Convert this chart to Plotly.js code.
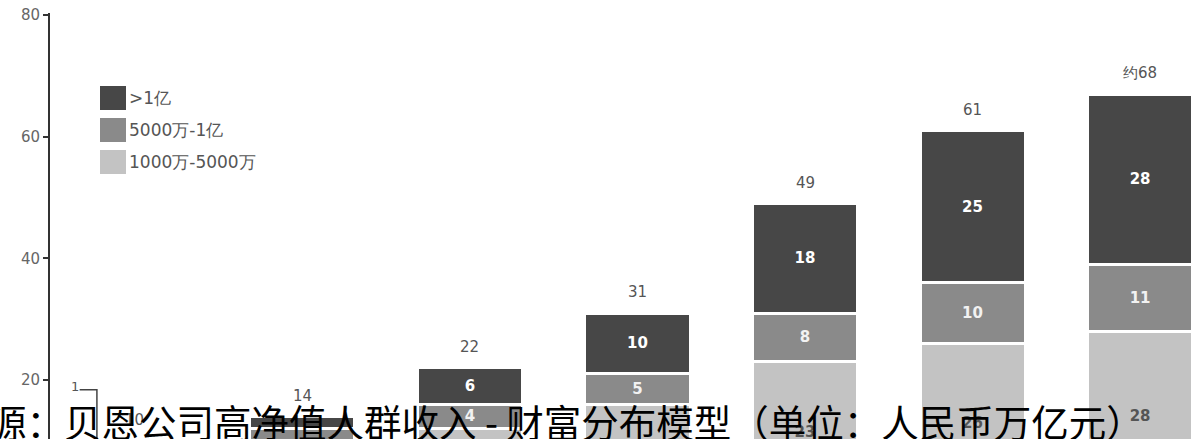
<!DOCTYPE html>
<html>
<head>
<meta charset="utf-8">
<script src="https://cdn.plot.ly/plotly-3.0.1.min.js"></script>
<style>
  html, body { margin: 0; padding: 0; background: #fff; }
  #chart { width: 1192px; height: 439px; }
</style>
</head>
<body>
<div id="chart"></div>
<script>
// ---- data (万亿元) ----
var categories = ['P1', 'P2', 'P3', 'P4', 'P5', 'P6', 'P7'];
var seriesNames = ['1000万-5000万', '5000万-1亿', '>1亿'];
var lowTier  = [7, 10, 12, 16, 23, 26, 28];   // 1000万-5000万
var midTier  = [2, 2, 4, 5, 8, 10, 11];       // 5000万-1亿
var highTier = [1, 2, 6, 10, 18, 25, 28];     // >1亿
var totalLabels = ['10', '14', '22', '31', '49', '61', '约68'];
var sourceText = '源：贝恩公司高净值人群收入 - 财富分布模型（单位：人民币万亿元）';

// ---- styling ----
var colors = ['#c3c3c3', '#8a8a8a', '#474747'];
var textColors = ['#555555', '#f2f2f2', '#ffffff'];
var LATIN = 'DejaVu Sans, Liberation Sans, sans-serif';
var W = 1192, H = 439, ML = 50, MR = 0, MT = 13, MB = 0;
var YMIN = 10.3, YMAX = 80.33;
var PW = W - ML - MR, PH = H - MT - MB;
function px2x(p) { return (p - ML) / PW; }
function py2y(p) { return 1 - (p - MT) / PH; }

var series = [lowTier, midTier, highTier];
var traces = series.map(function (vals, i) {
  return {
    type: 'bar',
    x: categories,
    y: vals,
    name: seriesNames[i],
    width: 0.627,
    marker: { color: colors[i], line: { color: '#ffffff', width: 3 } },
    text: vals.map(function (v, k) {
      var base = 0;
      for (var s = 0; s < i; s++) base += series[s][k];
      var mid = base + v / 2;
      return (v >= 3 && mid > YMIN + 1) ? String(v) : '';
    }),
    textposition: 'inside',
    insidetextanchor: 'middle',
    textangle: 0,
    textfont: { family: LATIN, size: 15, color: textColors[i], weight: 'bold' },
    hoverinfo: 'skip',
    showlegend: false
  };
});

var annotations = [];
categories.forEach(function (c, i) {
  var tot = lowTier[i] + midTier[i] + highTier[i];
  annotations.push({
    x: c, y: tot + 3.4, xref: 'x', yref: 'y',
    text: totalLabels[i], showarrow: false,
    yanchor: 'middle',
    font: { family: LATIN, size: 15, color: '#555' }
  });
});

// callout for the small >1亿 segment of the first bar
var firstTop = lowTier[0] + midTier[0] + highTier[0];
annotations.push({
  x: -0.36, y: firstTop + 9, xref: 'x', yref: 'y',
  text: String(highTier[0]), showarrow: false,
  xanchor: 'center', yanchor: 'middle',
  font: { family: LATIN, size: 13, color: '#555' }
});

// manual legend (large swatches)
var legendRows = [
  { idx: 2, top: 86 },
  { idx: 1, top: 118 },
  { idx: 0, top: 150 }
];
var shapes = [];
legendRows.forEach(function (r) {
  shapes.push({
    type: 'rect', xref: 'paper', yref: 'paper',
    x0: px2x(100), x1: px2x(126), y0: py2y(r.top + 24), y1: py2y(r.top),
    fillcolor: colors[r.idx], line: { width: 0 }
  });
  annotations.push({
    xref: 'paper', yref: 'paper', x: px2x(127), y: py2y(r.top + 12),
    xanchor: 'left', yanchor: 'middle', showarrow: false,
    text: seriesNames[r.idx],
    font: { family: LATIN, size: 17, color: '#555' }
  });
});

shapes.push({
  type: 'path', xref: 'x', yref: 'y',
  path: 'M -0.33,' + (firstTop + 8.4) + ' L -0.227,' + (firstTop + 8.4) + ' L -0.227,' + firstTop,
  line: { color: '#444', width: 1.5 }
});

// big overlaid source text
annotations.push({
  xref: 'paper', yref: 'paper', x: px2x(-13), y: 0,
  xanchor: 'left', yanchor: 'bottom', yshift: -11,
  showarrow: false, text: sourceText,
  font: { family: 'Noto Sans CJK SC, sans-serif', size: 37.5, color: '#000' }
});

var layout = {
  width: W, height: H,
  margin: { l: ML, r: MR, t: MT, b: MB, pad: 0 },
  paper_bgcolor: '#ffffff', plot_bgcolor: '#ffffff',
  barmode: 'stack',
  showlegend: false,
  xaxis: {
    type: 'category', range: [-0.507, 6.31],
    visible: false, fixedrange: true
  },
  yaxis: {
    range: [YMIN, YMAX],
    tickvals: [20, 40, 60, 80],
    showgrid: false, zeroline: false,
    showline: true, linecolor: '#333', linewidth: 2,
    ticks: 'outside', ticklen: 5, tickwidth: 2, tickcolor: '#333',
    tickfont: { family: LATIN, size: 15, color: '#666' },
    fixedrange: true
  },
  annotations: annotations,
  shapes: shapes
};

Plotly.newPlot('chart', traces, layout, { displayModeBar: false, staticPlot: true });
</script>
</body>
</html>
